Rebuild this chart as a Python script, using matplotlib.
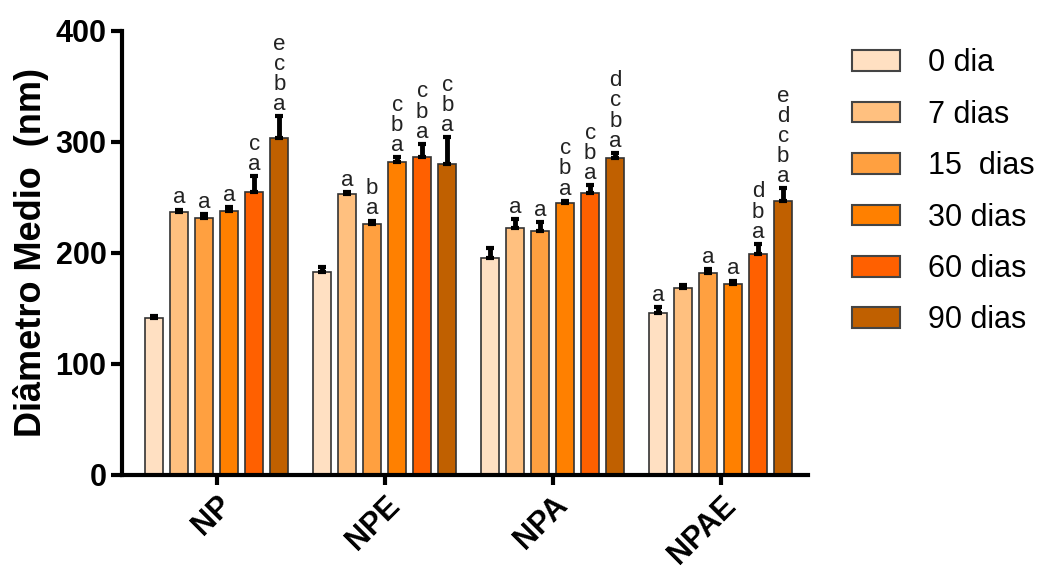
import numpy as np
import matplotlib
matplotlib.use("Agg")
import matplotlib.pyplot as plt

plt.rcParams['font.family'] = ['Liberation Sans', 'DejaVu Sans']

groups = ['NP', 'NPE', 'NPA', 'NPAE']
series = ['0 dia', '7 dias', '15  dias', '30 dias', '60 dias', '90 dias']
colors = ['#FFE0C2', '#FFC07F', '#FFA040', '#FF8000', '#FF6000', '#C06000']

# mean diameter (nm), rows = series, cols = groups
means = [
    [141, 183, 195, 146],
    [237, 253, 222, 168],
    [231, 226, 220, 182],
    [238, 282, 245, 172],
    [255, 286, 254, 199],
    [303, 280, 285, 247],
]
errs = [
    [2, 4, 9, 5],
    [2, 2, 8, 3],
    [4, 3, 8, 3],
    [3, 4, 2, 3],
    [14, 12, 7, 9],
    [20, 24, 5, 11],
]
letters = [
    ['', '', '', 'a'],
    ['a', 'a', 'a', ''],
    ['a', 'b\na', 'a', 'a'],
    ['a', 'c\nb\na', 'c\nb\na', 'a'],
    ['c\na', 'c\nb\na', 'c\nb\na', 'd\nb\na'],
    ['e\nc\nb\na', 'c\nb\na', 'd\nc\nb\na', 'e\nd\nc\nb\na'],
]

fig = plt.figure(figsize=(10.59, 5.7), dpi=100)
ax = fig.add_axes([0.115, 0.167, 0.648, 0.779])

x = np.arange(len(groups))
step = 0.149
width = 0.107
for i in range(len(series)):
    xs = x + (i - 2.5) * step
    m = np.array(means[i])
    e = np.array(errs[i])
    ax.bar(xs, m, width, color=colors[i], edgecolor='#333333', linewidth=1.2,
           label=series[i], zorder=2)
    ax.errorbar(xs, m, yerr=[np.zeros_like(e), e], fmt='none', ecolor='black',
                elinewidth=3.5, capsize=3, capthick=3, zorder=3)
    for j in range(len(groups)):
        if letters[i][j]:
            ax.text(xs[j], m[j] + e[j] + 1, letters[i][j], ha='center', va='bottom',
                    fontsize=16, linespacing=0.95, color='#222222')

ax.set_xlim(-0.565, 3.52)
ax.set_ylim(0, 400)
ax.set_yticks([0, 100, 200, 300, 400])
ax.set_xticks(x)
ax.set_xticklabels(groups, rotation=45, ha='right', rotation_mode='anchor',
                   fontsize=22, fontweight='bold')
for lab in ax.get_yticklabels():
    lab.set_fontsize(22)
    lab.set_fontweight('bold')
ax.set_ylabel('Diâmetro Medio  (nm)', fontsize=26, fontweight='bold', labelpad=5)

for s in ['top', 'right']:
    ax.spines[s].set_visible(False)
for s in ['left', 'bottom']:
    ax.spines[s].set_linewidth(3)
ax.tick_params(axis='y', direction='out', length=8, width=3, pad=3)
ax.tick_params(axis='x', direction='out', length=7, width=3, pad=4)

leg = ax.legend(loc='upper left', bbox_to_anchor=(0.8045, 0.915),
                bbox_transform=fig.transFigure, frameon=False,
                borderpad=0, borderaxespad=0,
                fontsize=22, handlelength=1.57, handleheight=0.66,
                labelspacing=0.7, handletextpad=0.92)
for p in leg.get_patches():
    p.set_edgecolor('#444444')
    p.set_linewidth(1.5)

fig.savefig('out.png', dpi=100)
